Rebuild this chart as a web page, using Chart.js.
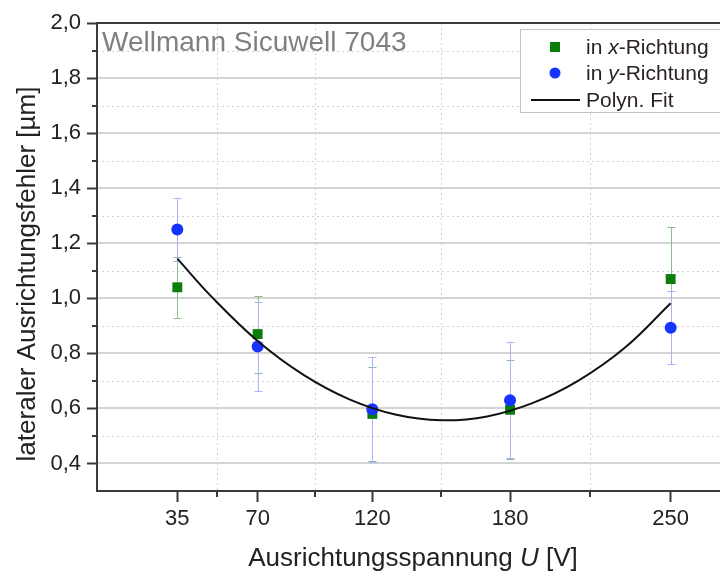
<!DOCTYPE html>
<html>
<head>
<meta charset="utf-8">
<script src="https://cdn.jsdelivr.net/npm/chart.js@4"></script>
<style>
  html, body { margin: 0; padding: 0; background: #fff; overflow: hidden; width: 720px; height: 572px; }
  #c { display: block; }
</style>
</head>
<body>
<canvas id="c" width="727" height="572"></canvas>
<script>
// ===== DATA =====
const voltages = [35, 70, 120, 180, 250];
const xDir = [1.04, 0.87, 0.58, 0.595, 1.07];
const xDirErr = [0.11, 0.14, 0.17, 0.18, 0.19];
const yDir = [1.25, 0.825, 0.597, 0.63, 0.893];
const yDirErr = [0.115, 0.163, 0.19, 0.21, 0.132];

// fit curve
const fitU = [35, 50, 70, 90, 110, 130, 150, 170, 190, 210, 230, 250];
const fitVal = [1.144, 1.005, 0.845, 0.722, 0.633, 0.578, 0.557, 0.571, 0.62, 0.702, 0.82, 0.982];

const xTicks = [35, 70, 120, 180, 250];
const xMinor = [52.5, 95, 150, 215];
const yTicks = [0.4, 0.6, 0.8, 1.0, 1.2, 1.4, 1.6, 1.8, 2.0];
const yMinor = [0.5, 0.7, 0.9, 1.1, 1.3, 1.5, 1.7, 1.9];

const FONT = "'Liberation Sans', Arial, sans-serif";
const GREEN = '#0b7d0b', BLUE = '#1634ff';
const GREEN_ERR = '#8fbb8f', BLUE_ERR = '#aab2ff';

Chart.defaults.font.family = FONT;
Chart.defaults.color = '#222';

function hline(ctx, x1, x2, y) { ctx.beginPath(); ctx.moveTo(x1, y); ctx.lineTo(x2, y); ctx.stroke(); }
function vline(ctx, x, y1, y2) { ctx.beginPath(); ctx.moveTo(x, y1); ctx.lineTo(x, y2); ctx.stroke(); }

const decor = {
    id: 'decor',
    beforeDraw(chart) {
        const { ctx, chartArea: a, scales: { x, y } } = chart;
        ctx.save();
        // minor dotted grid
        ctx.strokeStyle = '#d2d2d2'; ctx.lineWidth = 1; ctx.setLineDash([2, 3]);
        yMinor.forEach(v => hline(ctx, a.left, a.right, Math.round(y.getPixelForValue(v)) + 0.5));
        xMinor.forEach(v => vline(ctx, Math.round(x.getPixelForValue(v)) + 0.5, a.top, a.bottom));
        ctx.setLineDash([]);
        // major solid grid
        ctx.strokeStyle = '#d4d4d4'; ctx.lineWidth = 2;
        yTicks.filter(v => v < 2).forEach(v => hline(ctx, a.left, a.right, Math.round(y.getPixelForValue(v))));
        // top border
        ctx.strokeStyle = '#3a3a3a'; ctx.lineWidth = 2;
        hline(ctx, a.left - 1, chart.width, a.top);
        // minor ticks
        ctx.lineWidth = 2;
        yMinor.forEach(v => hline(ctx, a.left - 5, a.left, Math.round(y.getPixelForValue(v))));
        xMinor.forEach(v => vline(ctx, Math.round(x.getPixelForValue(v)), a.bottom, a.bottom + 6));
        ctx.restore();
    },
    beforeDatasetsDraw(chart) {
        const { ctx, scales: { x, y } } = chart;
        ctx.save();
        ctx.lineWidth = 1;
        const bars = (vals, errs, col) => {
            ctx.strokeStyle = col;
            vals.forEach((v, i) => {
                const px = Math.round(x.getPixelForValue(voltages[i])) + 0.5;
                const t = Math.round(y.getPixelForValue(v + errs[i])) + 0.5;
                const b = Math.round(y.getPixelForValue(v - errs[i])) + 0.5;
                vline(ctx, px, t, b);
                hline(ctx, px - 4, px + 4, t);
                hline(ctx, px - 4, px + 4, b);
            });
        };
        bars(xDir, xDirErr, GREEN_ERR);
        bars(yDir, yDirErr, BLUE_ERR);
        ctx.restore();
    },
    afterDraw(chart) {
        const { ctx } = chart;
        ctx.save();
        // label in top-left corner
        ctx.fillStyle = '#808080';
        ctx.font = '28px ' + FONT;
        ctx.textBaseline = 'alphabetic';
        ctx.fillText('Wellmann Sicuwell 7043', 102, 51);

        // legend
        ctx.fillStyle = '#fff';
        ctx.fillRect(520, 29, 220, 84);
        ctx.strokeStyle = '#c4c4c4'; ctx.lineWidth = 1;
        ctx.strokeRect(520.5, 29.5, 220, 83);
        ctx.fillStyle = GREEN;
        ctx.fillRect(550, 42, 10, 10);
        ctx.fillStyle = BLUE;
        ctx.beginPath(); ctx.arc(555, 73, 5.5, 0, Math.PI * 2); ctx.fill();
        ctx.strokeStyle = '#111'; ctx.lineWidth = 2;
        hline(ctx, 531, 580, 100);
        const rich = (parts, x0, yb, size) => {
            let cx = x0;
            parts.forEach(([txt, it]) => {
                ctx.font = (it ? 'italic ' : '') + size + 'px ' + FONT;
                ctx.fillText(txt, cx, yb);
                cx += ctx.measureText(txt).width;
            });
        };
        ctx.fillStyle = '#2a2222';
        rich([['in ', false], ['x', true], ['-Richtung', false]], 586, 54, 21);
        rich([['in ', false], ['y', true], ['-Richtung', false]], 586, 80, 21);
        rich([['Polyn. Fit', false]], 586, 107, 21);

        // x axis title with italic U
        ctx.fillStyle = '#222';
        const parts = [['Ausrichtungsspannung ', false], ['U', true], [' [V]', false]];
        let w = 0;
        parts.forEach(([t, it]) => { ctx.font = (it ? 'italic ' : '') + '26px ' + FONT; w += ctx.measureText(t).width; });
        rich(parts, 413 - w / 2, 566, 26);

        // y axis title
        ctx.translate(35, 274);
        ctx.rotate(-Math.PI / 2);
        ctx.font = '26px ' + FONT;
        ctx.textAlign = 'center';
        ctx.fillText('lateraler Ausrichtungsfehler [µm]', 0, 0);
        ctx.restore();
    }
};

new Chart(document.getElementById('c'), {
    data: {
        datasets: [
            {
                type: 'line', label: 'Polyn. Fit',
                data: fitU.map((u, i) => ({ x: u, y: fitVal[i] })),
                borderColor: '#111', borderWidth: 2, pointRadius: 0, tension: 0.4, fill: false
            },
            {
                type: 'scatter', label: 'in y-Richtung',
                data: voltages.map((u, i) => ({ x: u, y: yDir[i] })),
                backgroundColor: BLUE, borderColor: BLUE, pointStyle: 'circle', pointRadius: 6, borderWidth: 0
            },
            {
                type: 'scatter', label: 'in x-Richtung',
                data: voltages.map((u, i) => ({ x: u, y: xDir[i] })),
                backgroundColor: GREEN, borderColor: GREEN, pointStyle: 'rect', pointRadius: 7, borderWidth: 0
            }
        ]
    },
    options: {
        responsive: false,
        animation: false,
        layout: { padding: { top: 23, right: 0, bottom: 0, left: 0 } },
        plugins: { legend: { display: false }, tooltip: { enabled: false } },
        scales: {
            x: {
                type: 'linear', min: 0, max: 271.5,
                afterBuildTicks: s => { s.ticks = xTicks.map(v => ({ value: v })); },
                afterFit: s => { s.height = 81; },
                ticks: { autoSkip: false, maxRotation: 0, padding: 4, color: '#222',
                         font: { size: 22 }, callback: v => String(v) },
                grid: { drawOnChartArea: false, drawTicks: true, tickLength: 11, tickColor: '#3a3a3a', tickWidth: 2 },
                border: { display: true, color: '#3a3a3a', width: 2 }
            },
            y: {
                type: 'linear', min: 0.3, max: 2.0,
                afterBuildTicks: s => { s.ticks = yTicks.map(v => ({ value: v })); },
                afterFit: s => { s.width = 97; },
                ticks: { autoSkip: false, padding: 6, color: '#222',
                         font: { size: 22 }, callback: v => v.toFixed(1).replace('.', ',') },
                grid: { drawOnChartArea: false, drawTicks: true, tickLength: 10, tickColor: '#3a3a3a', tickWidth: 2 },
                border: { display: true, color: '#3a3a3a', width: 2 }
            }
        }
    },
    plugins: [decor]
});
</script>
</body>
</html>
